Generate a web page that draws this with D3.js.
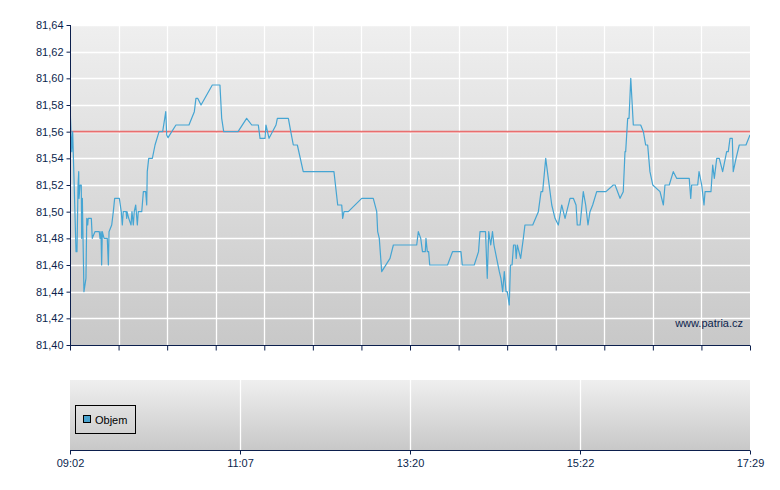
<!DOCTYPE html>
<html><head><meta charset="utf-8">
<script src="https://cdn.jsdelivr.net/npm/d3@7"></script>
<style>body{margin:0;background:#fff}svg{display:block}text{font-family:"Liberation Sans",Arial,sans-serif}</style>
</head><body><svg id="c" width="780" height="490"></svg>
<script>
// minutes after 09:02
const times = [0,1.3,2.0,4.5,5.2,6.0,6.5,6.7,7.5,8.4,8.7,9.2,10.4,11.9,12.5,13.2,13.6,15.9,16.6,18.6,21.8,22.4,23.1,23.6,24.1,25.4,27.8,28.6,29.1,31.1,32.3,33.3,36.8,38.2,39.0,39.7,41.8,42.3,42.5,43.8,45.5,46.2,47.2,47.9,49.0,50.2,50.9,53.5,53.9,54.7,56.4,57.2,57.6,58.7,61.4,63.4,66.4,69.1,71.4,72.1,73.1,74.6,79.0,88.7,92.7,93.9,95.2,97.7,106.1,111.8,113.1,114.6,125.3,131.7,135.5,140.4,141.7,145.4,146.1,148.4,153.6,154.6,162.8,164.6,166.5,169.5,173.9,196.8,199.6,202.6,203.3,204.3,207.5,217.5,226.1,228.7,229.4,230.6,232.4,238.6,241.1,258.5,259.7,261.5,262.8,264.9,265.4,266.4,267.4,268.2,281.5,285.2,291.5,292.5,301.4,304.6,305.7,309.8,311.1,312.2,313.7,315.0,316.1,318.1,320.1,321.3,322.6,323.8,325.1,326.0,327.5,328.4,329.6,330.7,332.0,332.7,333.5,336.0,338.0,339.2,345.0,349.2,351.2,352.4,354.7,356.6,359.2,361.6,364.1,366.6,369.1,372.8,375.3,377.3,378.2,380.3,382.7,384.5,386.2,387.7,389.7,392.7,399.6,405.1,406.4,410.1,412.5,413.8,414.3,415.8,416.8,418.1,420.0,425.5,427.5,429.2,430.7,432.4,434.5,439.9,442.4,443.6,446.8,449.8,452.3,456.1,461.7,462.8,463.5,468.0,469.0,471.0,472.7,473.5,477.9,479.2,480.4,482.2,484.1,486.6,489.6,490.8,492.1,493.8,494.5,496.6,499.0,504.0,507];
const prices = [81.58,81.545,81.56,81.47,81.47,81.52,81.53,81.51,81.52,81.52,81.48,81.51,81.44,81.45,81.495,81.49,81.495,81.495,81.48,81.485,81.485,81.48,81.485,81.46,81.485,81.48,81.48,81.46,81.485,81.49,81.50,81.51,81.51,81.50,81.49,81.50,81.50,81.495,81.50,81.495,81.49,81.50,81.49,81.50,81.505,81.49,81.50,81.50,81.505,81.515,81.515,81.505,81.53,81.54,81.54,81.55,81.56,81.56,81.575,81.5575,81.5555,81.558,81.565,81.565,81.575,81.585,81.585,81.58,81.595,81.595,81.57,81.56,81.56,81.57,81.565,81.565,81.555,81.555,81.565,81.555,81.565,81.57,81.57,81.56,81.55,81.55,81.53,81.53,81.505,81.505,81.495,81.50,81.50,81.51,81.51,81.50,81.485,81.48,81.455,81.465,81.475,81.475,81.485,81.48,81.47,81.47,81.48,81.47,81.47,81.46,81.46,81.47,81.47,81.46,81.46,81.47,81.485,81.485,81.45,81.485,81.475,81.485,81.475,81.465,81.455,81.45,81.44,81.455,81.44,81.44,81.43,81.46,81.46,81.475,81.475,81.465,81.475,81.465,81.48,81.49,81.49,81.50,81.515,81.515,81.54,81.525,81.505,81.495,81.49,81.505,81.495,81.51,81.51,81.505,81.49,81.49,81.515,81.505,81.49,81.50,81.505,81.515,81.515,81.52,81.52,81.51,81.515,81.545,81.545,81.57,81.57,81.60,81.565,81.565,81.56,81.55,81.55,81.53,81.52,81.515,81.505,81.52,81.52,81.53,81.525,81.525,81.525,81.51,81.52,81.52,81.53,81.52,81.505,81.515,81.515,81.535,81.525,81.54,81.54,81.53,81.545,81.545,81.555,81.555,81.53,81.54,81.55,81.55,81.5575];
const target = 81.56;
const yTicks = [81.40,81.42,81.44,81.46,81.48,81.50,81.52,81.54,81.56,81.58,81.60,81.62,81.64];
const xLabels = ["09:02","11:07","13:20","15:22","17:29"];
const legendLabel = "Objem";
const watermark = "www.patria.cz";
const sessionMinutes = 507;

const svg = d3.select("#c");
const L = 70, R = 750, T = 25, B = 345, VT = 380, VB = 450;
const navy = "#0c1f4d";
const x = d3.scaleLinear().domain([0, sessionMinutes]).range([L, R]);
const y = d3.scaleLinear().domain([81.40, 81.64]).range([B, T]);

const defs = svg.append("defs");
const g1 = defs.append("linearGradient").attr("id","bg").attr("x1",0).attr("y1",0).attr("x2",0).attr("y2",1);
g1.append("stop").attr("offset","0%").attr("stop-color","#efefef");
g1.append("stop").attr("offset","100%").attr("stop-color","#c8c8c8");
defs.append("clipPath").attr("id","clip").append("rect").attr("x",L).attr("y",T).attr("width",R-L).attr("height",B-T);

// main panel background
svg.append("rect").attr("x",L).attr("y",T).attr("width",R-L).attr("height",B-T).attr("fill","url(#bg)");
const mainTicks = d3.range(15).map(i => i * sessionMinutes / 14);
// gridlines
svg.append("g").selectAll("line").data(yTicks.slice(1)).join("line")
  .attr("x1",L).attr("x2",R).attr("y1",d=>Math.round(y(d))+0.5).attr("y2",d=>Math.round(y(d))+0.5)
  .attr("stroke","#fff").attr("stroke-width",1.3);
svg.append("g").selectAll("line").data(mainTicks.slice(1,-1)).join("line")
  .attr("y1",T).attr("y2",B).attr("x1",d=>Math.round(x(d))+0.5).attr("x2",d=>Math.round(x(d))+0.5)
  .attr("stroke","#fff").attr("stroke-width",1.3);

// target line
svg.append("line").attr("x1",L).attr("x2",R).attr("y1",y(target)).attr("y2",y(target))
  .attr("stroke","#e85a5a").attr("stroke-width",1.6).attr("opacity",0.85);

// price line
const pts = times.map((t,i)=>[t, prices[i]]);
svg.append("path").datum(pts).attr("clip-path","url(#clip)")
  .attr("d", d3.line().x(d=>x(d[0])).y(d=>y(d[1])))
  .attr("fill","none").attr("stroke","#45a5d3").attr("stroke-width",1.2).attr("stroke-linejoin","round");

// watermark
svg.append("text").attr("x",743).attr("y",327).attr("text-anchor","end")
  .attr("font-size",11).attr("fill",navy).text(watermark);

// y axis
const yAxis = svg.append("g").attr("transform",`translate(${L+0.5},0)`)
  .call(d3.axisLeft(y).tickValues(yTicks).tickSize(4).tickPadding(3)
    .tickFormat(d => d3.format(".2f")(d).replace(".", ",")));
// x axis (main)
const xAxis = svg.append("g").attr("transform",`translate(0,${B+0.5})`)
  .call(d3.axisBottom(x).tickValues(mainTicks).tickSize(5).tickFormat(""));
[yAxis, xAxis].forEach(a=>{
  a.selectAll("path,line").attr("stroke",navy);
  a.select(".domain").attr("d", a===yAxis ? `M0,${T}V${B}` : `M${L},0H${R}`);
  a.selectAll("text").attr("fill",navy).attr("font-size",11).attr("font-family","Liberation Sans, Arial, sans-serif");
});

// volume panel
svg.append("rect").attr("x",L).attr("y",VT).attr("width",R-L).attr("height",VB-VT).attr("fill","url(#bg)");
const labelPos = d3.range(5).map(i => i * sessionMinutes / 4);
svg.append("g").selectAll("line").data(labelPos.slice(1,-1)).join("line")
  .attr("y1",VT).attr("y2",VB).attr("x1",d=>Math.round(x(d))+0.5).attr("x2",d=>Math.round(x(d))+0.5)
  .attr("stroke","#fff").attr("stroke-width",1.3);
const vAxis = svg.append("g").attr("transform",`translate(0,${VB+0.5})`)
  .call(d3.axisBottom(x).tickValues(labelPos).tickSize(4).tickPadding(5)
    .tickFormat((d,i)=>xLabels[i]));
vAxis.selectAll("path,line").attr("stroke",navy);
vAxis.select(".domain").attr("d",`M${L},0H${R}`);
vAxis.selectAll("text").attr("fill",navy).attr("font-size",11).attr("font-family","Liberation Sans, Arial, sans-serif");

// legend
const lg = svg.append("g");
lg.append("rect").attr("x",75.5).attr("y",405.5).attr("width",60).attr("height",28).attr("fill","none").attr("stroke","#000");
lg.append("rect").attr("x",83.5).attr("y",415.5).attr("width",7).attr("height",7).attr("fill","#4aa3cf").attr("stroke","#000");
lg.append("text").attr("x",95).attr("y",423.5).attr("font-size",11).attr("fill","#000").text(legendLabel);
</script></body></html>
